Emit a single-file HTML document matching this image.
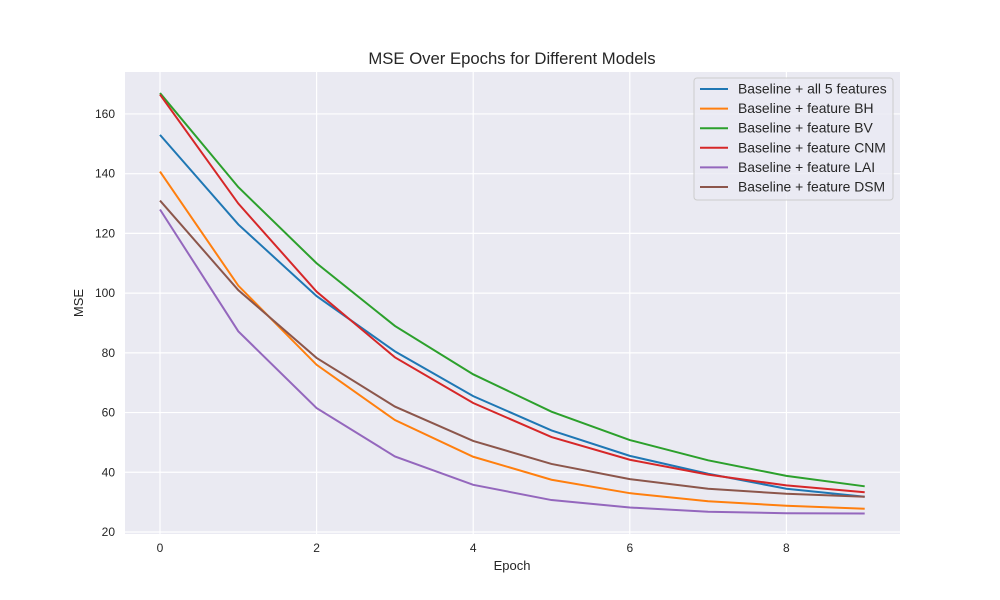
<!DOCTYPE html>
<html><head><meta charset="utf-8"><style>
body{margin:0;background:#fff;}
svg{display:block;font-family:"Liberation Sans","DejaVu Sans",sans-serif;}
</style></head><body>
<svg id="chart" width="1000" height="600">
<rect x="0" y="0" width="1000" height="600" fill="#fff"/>
<rect x="125" y="72" width="775" height="462" fill="#eaeaf2"/>
<g id="grid"></g>
<g id="ticks"></g>
<g id="series"></g>
<text x="512" y="64" text-anchor="middle" font-size="16.7" fill="#262626">MSE Over Epochs for Different Models</text>
<text x="512" y="570" text-anchor="middle" font-size="13" fill="#262626">Epoch</text>
<text x="83" y="303" text-anchor="middle" font-size="13" fill="#262626" transform="rotate(-90 83 303)">MSE</text>
<g id="legend"></g>
</svg>
<script>
const epochs=[0,1,2,3,4,5,6,7,8,9];
const seriesNames=["Baseline + all 5 features","Baseline + feature BH","Baseline + feature BV","Baseline + feature CNM","Baseline + feature LAI","Baseline + feature DSM"];
const seriesColors=["#1f77b4","#ff7f0e","#2ca02c","#d62728","#9467bd","#8c564b"];
const allFeatures=[153,123,99,80.5,65.5,54,45.5,39.5,34.5,31.8];
const featureBH=[140.7,102.5,76,57.5,45.2,37.5,33,30.3,28.8,27.8];
const featureBV=[167,135.5,110,89,72.8,60.3,50.8,44,38.8,35.3];
const featureCNM=[166.5,130,100.5,78.5,63.2,51.8,44.2,39.2,35.6,33.3];
const featureLAI=[128,87.2,61.5,45.3,35.8,30.7,28.2,26.8,26.3,26.2];
const featureDSM=[131,101,78.3,62,50.5,42.8,37.7,34.5,32.8,31.8];
const xTicks=[0,2,4,6,8];
const yTicks=[20,40,60,80,100,120,140,160];
const allSeries=[allFeatures,featureBH,featureBV,featureCNM,featureLAI,featureDSM];
const NS="http://www.w3.org/2000/svg";
function xs(v){return 160+v*78.3;}
function ys(v){return 532-(v-20)*2.986;}
function mk(tag,attrs,parent){const e=document.createElementNS(NS,tag);for(const k in attrs)e.setAttribute(k,attrs[k]);parent.appendChild(e);return e;}
const grid=document.getElementById('grid'),ticks=document.getElementById('ticks'),ser=document.getElementById('series'),leg=document.getElementById('legend');
xTicks.forEach(t=>{
 const l=mk('line',{x1:xs(t),x2:xs(t),y1:72,y2:534,stroke:'#fff','stroke-width':1.2},grid);
 
 
 const tx=mk('text',{x:xs(t),y:552,'text-anchor':'middle','font-size':12,fill:'#262626'},ticks);
 tx.textContent=t;
 
 
});
yTicks.forEach(t=>{
 const l=mk('line',{x1:125,x2:900,y1:ys(t),y2:ys(t),stroke:'#fff','stroke-width':1.2},grid);
 
 
 const tx=mk('text',{x:115,y:ys(t)+4,'text-anchor':'end','font-size':12,fill:'#262626'},ticks);
 tx.textContent=t;
 
 
});
allSeries.forEach((s,i)=>{
 const p=mk('polyline',{points:s.map((v,j)=>xs(epochs[j])+','+ys(v)).join(' '),fill:'none',stroke:seriesColors[i],'stroke-width':2},ser);
 
 
});
const lb=mk('rect',{x:694,y:78,width:199,height:122,fill:'#eaeaf2',stroke:'#ccc',rx:3,'fill-opacity':0.8},leg);


seriesNames.forEach((n,i)=>{
 const y=89+i*19.6;
 const g=mk('g',{},leg);
 
 
 mk('line',{x1:700,x2:728,y1:y,y2:y,stroke:seriesColors[i],'stroke-width':2},g);
 const t=mk('text',{x:738,y:y+4.5,'font-size':13.9,fill:'#262626'},g);
 t.textContent=n;
});
</script>
</body></html>
